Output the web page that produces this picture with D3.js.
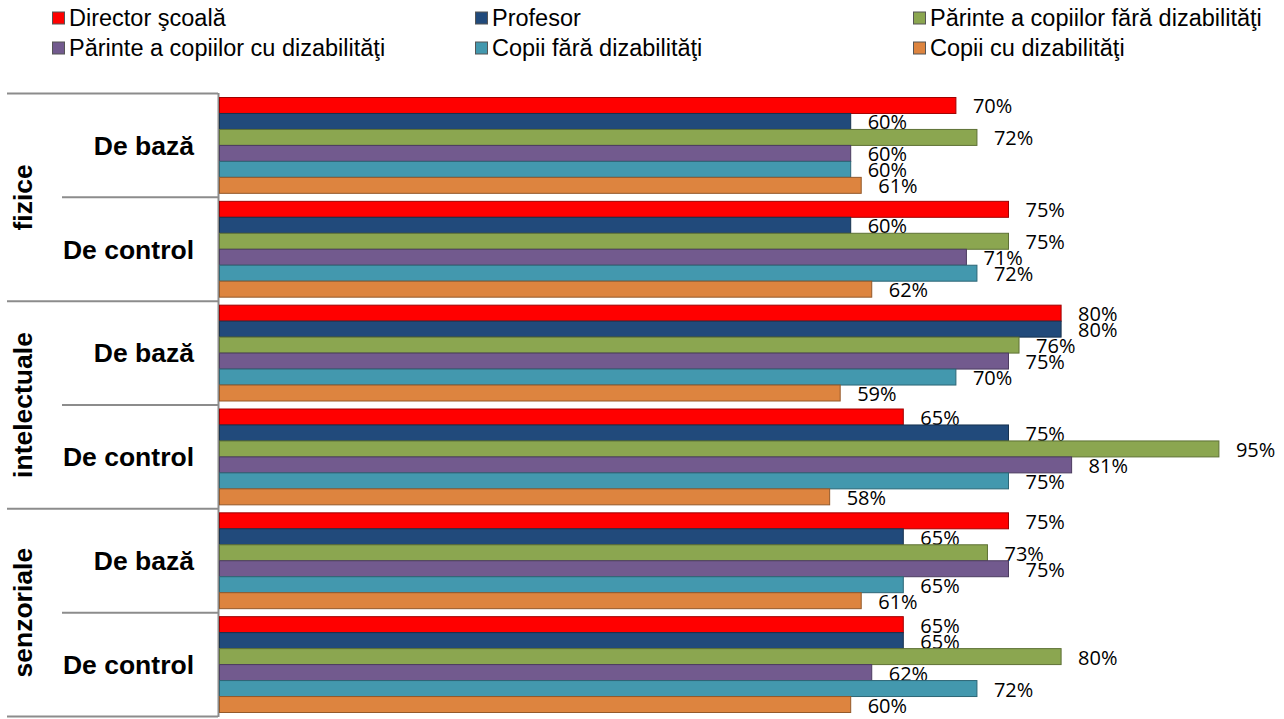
<!DOCTYPE html>
<html><head><meta charset="utf-8">
<script src="https://cdn.jsdelivr.net/npm/d3@7"></script>
<style>html,body{margin:0;padding:0;background:#fff;}svg{display:block;}</style>
</head><body><svg id="c" width="1284" height="719"></svg>
<script>
const outerCats = ["fizice", "intelectuale", "senzoriale"];
const innerCats = ["De bază", "De control"];
const seriesNames = ["Director şcoală", "Profesor", "Părinte a copiilor fără dizabilităţi",
  "Părinte a copiilor cu dizabilităţi", "Copii fără dizabilităţi", "Copii cu dizabilităţi"];
const seriesColors = ["#FF0000", "#214A7B", "#8BA650", "#725A8E", "#4398AE", "#DD843F"];
const seriesStroke = ["#A00000", "#17324F", "#5E7135", "#4C3C60", "#2D6676", "#94592A"];
// values per series, in group order: fizice/De bază, fizice/De control, intelectuale/De bază, intelectuale/De control, senzoriale/De bază, senzoriale/De control
const directorScoala = [70, 75, 80, 65, 75, 65];
const profesor = [60, 60, 80, 75, 65, 65];
const parinteFara = [72, 75, 76, 95, 73, 80];
const parinteCu = [60, 71, 75, 81, 75, 62];
const copiiFara = [60, 72, 70, 75, 65, 72];
const copiiCu = [61, 62, 59, 58, 61, 60];
const seriesValues = [directorScoala, profesor, parinteFara, parinteCu, copiiFara, copiiCu];

const svg = d3.select("#c");
const groups = [];
outerCats.forEach(o => innerCats.forEach(i => groups.push(o + "|" + i)));

const x = d3.scaleLinear().domain([0, 100]).range([219.5, 1271.5]);
const yG = d3.scaleBand().domain(groups).range([93.5, 716.5]).padding(0);
const yS = d3.scaleBand().domain(seriesNames).range([4, yG.bandwidth() - 4]).padding(0);
const yO = d3.scaleBand().domain(outerCats).range([93.5, 716.5]).padding(0);

// legend
const legCols = [52, 475, 913];
const legRows = [18, 48];
const legendOrder = [[0, 0, 0], [1, 1, 0], [2, 2, 0], [3, 0, 1], [4, 1, 1], [5, 2, 1]];
legendOrder.forEach(([s, c, r]) => {
  const g = svg.append("g").attr("transform", `translate(${legCols[c]},${legRows[r]})`);
  g.append("rect").attr("x", 0.5).attr("y", -6).attr("width", 12).attr("height", 12)
    .attr("fill", seriesColors[s]).attr("stroke", "#555").attr("stroke-width", 1);
  g.append("text").attr("x", 17).attr("y", 0).attr("dy", "0.35em")
    .attr("font-family", "Liberation Sans, Arial, sans-serif").attr("font-size", 23.5)
    .attr("fill", "#000").text(seriesNames[s]);
});

// axis lines / separators
const lineColor = "#8c8c8c";
svg.append("line").attr("x1", 218.5).attr("x2", 218.5).attr("y1", 93).attr("y2", 717)
  .attr("stroke", lineColor).attr("stroke-width", 2);
groups.forEach((g, i) => {
  const yTop = yG(g);
  const full = i % 2 === 0;
  svg.append("line").attr("x1", full ? 7 : 62).attr("x2", 218).attr("y1", yTop).attr("y2", yTop)
    .attr("stroke", lineColor).attr("stroke-width", 2);
});
svg.append("line").attr("x1", 7).attr("x2", 218).attr("y1", 716.5).attr("y2", 716.5)
  .attr("stroke", lineColor).attr("stroke-width", 2);

// inner labels
groups.forEach(g => {
  const inner = g.split("|")[1];
  svg.append("text").attr("x", 194).attr("y", yG(g) + yG.bandwidth() / 2).attr("dy", "0.35em")
    .attr("text-anchor", "end").attr("font-family", "Liberation Sans, Arial, sans-serif")
    .attr("font-weight", "bold").attr("font-size", 26.5).attr("fill", "#000").text(inner);
});
// outer labels
outerCats.forEach(o => {
  const cy = yO(o) + yO.bandwidth() / 2;
  svg.append("text").attr("transform", `translate(23,${cy}) rotate(-90)`).attr("dy", "0.35em")
    .attr("text-anchor", "middle").attr("font-family", "Liberation Sans, Arial, sans-serif")
    .attr("font-weight", "bold").attr("font-size", 26.5).attr("fill", "#000").text(o);
});

// bars and labels, series by series
seriesNames.forEach((name, s) => {
  const data = groups.map((g, i) => ({ g, v: seriesValues[s][i] }));
  svg.append("g").selectAll("rect").data(data).join("rect")
    .attr("x", x(0))
    .attr("y", d => yG(d.g) + yS(name))
    .attr("width", d => x(d.v) - x(0))
    .attr("height", yS.bandwidth())
    .attr("fill", seriesColors[s])
    .attr("stroke", seriesStroke[s]).attr("stroke-width", 1);
  svg.append("g").selectAll("text").data(data).join("text")
    .attr("x", d => x(d.v) + 17)
    .attr("y", d => yG(d.g) + yS(name) + yS.bandwidth() / 2 + 1)
    .attr("dy", "0.35em")
    .attr("font-family", "Open Sans, sans-serif").attr("font-size", 20).attr("fill", "#000")
    .text(d => d.v + "%");
});
</script></body></html>
